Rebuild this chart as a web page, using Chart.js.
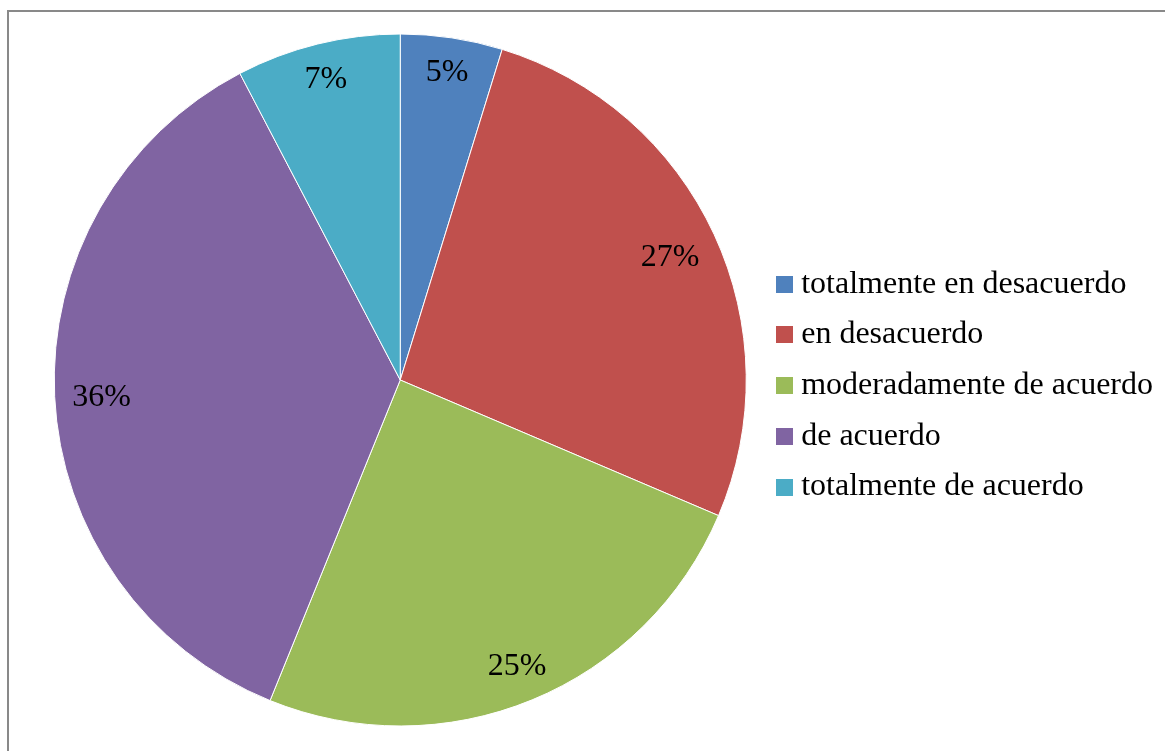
<!DOCTYPE html>
<html>
<head>
<meta charset="utf-8">
<script src="https://cdn.jsdelivr.net/npm/chart.js@4"></script>
<style>
  body { margin: 0; background: #fff; overflow: hidden; }
  #frame {
    position: absolute; left: 7px; top: 10px;
    width: 1200px; height: 800px;
    border: 2px solid #898989;
  }
  #wrap { position: absolute; left: 0; top: 0; width: 1185px; height: 751px; }
</style>
</head>
<body>
<div id="frame"></div>
<div id="wrap"><canvas id="chart"></canvas></div>
<script>
const categories = [
  "totalmente en desacuerdo",
  "en desacuerdo",
  "moderadamente de acuerdo",
  "de acuerdo",
  "totalmente de acuerdo",
];
// shares
const values = [4.76, 26.65, 24.73, 36.19, 7.67];
// percentages as printed on the slices
const pctText = ["5%", "27%", "25%", "36%", "7%"];
const colors = ["#4F81BD", "#C0504D", "#9BBB59", "#8064A2", "#4BACC6"];

const serif = "'Liberation Serif', 'Times New Roman', serif";

const swatch = (color) => {
  const c = document.createElement("canvas");
  c.width = 17;
  c.height = 17;
  const g = c.getContext("2d");
  g.fillStyle = color;
  g.fillRect(0, 0, 17, 17);
  return c;
};

// percent labels "inside end": text box kept just inside the rim
const pctLabels = {
  id: "pctLabels",
  afterDatasetsDraw(chart) {
    const ctx = chart.ctx;
    const arcs = chart.getDatasetMeta(0).data;
    ctx.save();
    ctx.font = "32px " + serif;
    ctx.fillStyle = "#000";
    ctx.textAlign = "center";
    ctx.textBaseline = "middle";
    arcs.forEach((arc, i) => {
      const p = arc.getProps(["x", "y", "startAngle", "endAngle", "outerRadius"], true);
      const mid = (p.startAngle + p.endAngle) / 2;
      const w = ctx.measureText(pctText[i]).width;
      const ext = Math.abs(Math.cos(mid)) * w / 2 + Math.abs(Math.sin(mid)) * 12;
      const r = p.outerRadius - 17 - ext;
      ctx.fillText(pctText[i], p.x + Math.cos(mid) * r, p.y + Math.sin(mid) * r + 3);
    });
    ctx.restore();
  },
};

const pie = document.getElementById("chart").getContext("2d");
const pieChart = new Chart(pie, {
  type: "pie",
  data: {
    labels: categories,
    datasets: [
      {
        data: values,
        backgroundColor: colors,
        borderColor: "#fff",
        borderWidth: 1,
        radius: 346,
      },
    ],
  },
  options: {
    responsive: true,
    maintainAspectRatio: false,
    animation: false,
    layout: {
      padding: { left: 36, right: 22, top: 33, bottom: 24 },
    },
    plugins: {
      tooltip: { enabled: false },
      legend: {
        position: "right",
        title: { display: true, text: " ", font: { size: 1 }, padding: 5 },
        labels: {
          font: { family: serif, size: 32 },
          color: "#000",
          usePointStyle: true,
          boxWidth: 2,
          boxHeight: 17,
          padding: 18.7,
          generateLabels: (chart) => {
            const items = Chart.overrides.pie.plugins.legend.labels.generateLabels(chart);
            return items.map((it, i) => ({ ...it, pointStyle: swatch(colors[i]) }));
          },
        },
      },
    },
  },
  plugins: [pctLabels],
});
</script>
</body>
</html>
